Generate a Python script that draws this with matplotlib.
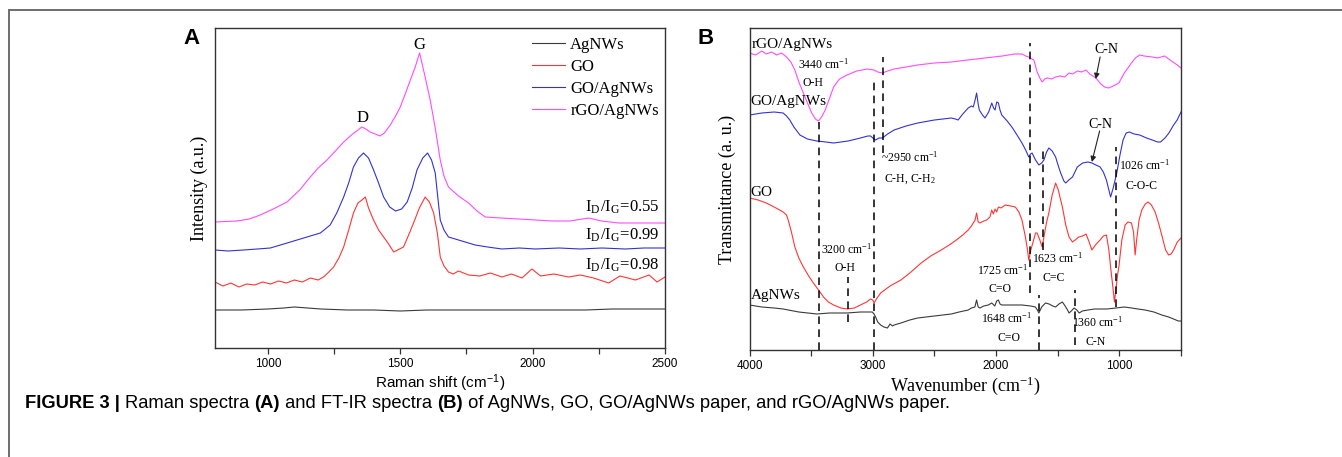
import matplotlib
matplotlib.use('Agg')
import matplotlib.pyplot as plt
from matplotlib.lines import Line2D

plt.rcParams['font.family'] = ['Liberation Sans', 'DejaVu Sans']
plt.rcParams['mathtext.fontset'] = 'stix'
SERIF = ['Liberation Serif', 'DejaVu Serif']
SANS = ['Liberation Sans', 'DejaVu Sans']

# ---------------- data: Raman (panel A), intensity in arbitrary units ----------------
raman_labels = ['AgNWs', 'GO', 'GO/AgNWs', 'rGO/AgNWs']
raman_ag = [(800, 38), (900, 38), (1000, 39), (1060, 40), (1100, 41), (1150, 40), (1200, 39), (1300, 38),
            (1400, 38), (1500, 37), (1600, 38), (1700, 38), (1800, 38), (1900, 38), (2000, 38),
            (2100, 38), (2200, 38), (2300, 39), (2400, 39), (2500, 39)]
raman_go = [(800, 66), (830, 62), (860, 65), (890, 61), (920, 64), (950, 63), (980, 66), (1010, 64),
            (1040, 67), (1070, 65), (1100, 68), (1130, 66), (1160, 70), (1190, 68), (1210, 71),
            (1230, 76), (1248, 81), (1268, 90), (1286, 101), (1305, 118), (1323, 135), (1340, 145),
            (1355, 148), (1368, 151), (1380, 140), (1399, 128), (1418, 118), (1437, 111), (1456, 104),
            (1475, 96), (1490, 98), (1512, 101), (1530, 112), (1550, 125), (1572, 140), (1594, 151),
            (1610, 146), (1626, 135), (1640, 115), (1651, 91), (1665, 82), (1682, 76), (1700, 74),
            (1720, 77), (1758, 73), (1800, 72), (1840, 75), (1884, 71), (1920, 74), (1960, 70),
            (1997, 79), (2030, 72), (2080, 74), (2136, 71), (2180, 73), (2230, 70), (2287, 65),
            (2330, 72), (2388, 68), (2440, 73), (2470, 66), (2500, 71)]
raman_goag = [(800, 98), (850, 97), (908, 98), (960, 99), (1009, 100), (1060, 104), (1110, 108),
              (1160, 112), (1198, 115), (1235, 123), (1260, 135), (1286, 151), (1305, 165), (1323, 181),
              (1342, 190), (1361, 195), (1380, 190), (1399, 178), (1418, 165), (1437, 151), (1460, 141),
              (1482, 137), (1505, 139), (1526, 146), (1545, 160), (1563, 178), (1585, 190), (1603, 195),
              (1618, 188), (1632, 175), (1642, 150), (1651, 128), (1665, 118), (1682, 111), (1720, 108),
              (1783, 103), (1830, 101), (1884, 99), (1950, 100), (2010, 99), (2100, 100), (2180, 99),
              (2262, 100), (2350, 99), (2420, 100), (2500, 100)]
raman_rgo = [(800, 126), (883, 127), (930, 129), (971, 133), (1020, 139), (1072, 146), (1120, 158),
             (1160, 171), (1190, 180), (1223, 188), (1255, 197), (1286, 206), (1320, 214), (1355, 221),
             (1370, 219), (1386, 216), (1405, 214), (1424, 212), (1440, 215), (1462, 223), (1480, 231),
             (1500, 241), (1520, 255), (1538, 268), (1555, 280), (1573, 295), (1593, 272), (1613, 248),
             (1632, 220), (1651, 188), (1665, 172), (1682, 161), (1720, 152), (1758, 145), (1790, 137),
             (1821, 131), (1880, 130), (1947, 129), (2010, 128), (2073, 127), (2140, 127), (2212, 130),
             (2260, 127), (2325, 125), (2400, 125), (2500, 125)]
raman_peaks = [('D', 1359, 230), ('G', 1573, 303)]
raman_ratios = [('0.55', 141), ('0.99', 113), ('0.98', 83)]

# ---------------- data: FT-IR (panel B), transmittance in arbitrary units ----------------
ftir_rgo = [(4000, 297), (3950, 295), (3900, 299), (3864, 296), (3820, 298), (3780, 295), (3740, 297),
            (3700, 293), (3665, 288), (3632, 280), (3600, 268), (3563, 257), (3530, 247), (3495, 237),
            (3465, 231), (3441, 229), (3415, 233), (3386, 240), (3350, 252), (3318, 263), (3270, 271),
            (3209, 275), (3130, 279), (3045, 281), (2990, 280), (2960, 278), (2922, 277), (2880, 279),
            (2827, 281), (2730, 283), (2636, 285), (2500, 287), (2363, 288), (2230, 290), (2090, 292),
            (1950, 294), (1850, 296), (1790, 296), (1760, 294), (1735, 293), (1710, 291), (1694, 290),
            (1680, 284), (1667, 278), (1645, 272), (1626, 268), (1605, 271), (1585, 272), (1550, 271),
            (1517, 273), (1480, 274), (1443, 273), (1408, 277), (1380, 276), (1340, 279), (1308, 278),
            (1271, 280), (1240, 276), (1190, 272), (1150, 266), (1120, 263), (1088, 262), (1050, 264),
            (1004, 267), (960, 277), (902, 287), (870, 292), (835, 295), (800, 294), (733, 293),
            (690, 292), (632, 294), (600, 291), (565, 288), (530, 285), (500, 282)]
ftir_goag = [(4000, 235), (3900, 237), (3800, 238), (3727, 237), (3700, 234), (3673, 230), (3640, 223),
             (3591, 215), (3530, 211), (3454, 209), (3380, 208), (3318, 207), (3200, 209), (3100, 212),
             (3040, 214), (3018, 214), (2990, 211), (2977, 210), (2950, 212), (2922, 212), (2880, 216),
             (2827, 220), (2730, 224), (2636, 227), (2500, 230), (2363, 232), (2330, 231), (2308, 230),
             (2270, 236), (2226, 242), (2200, 244), (2185, 243), (2170, 250), (2158, 257), (2145, 246),
             (2136, 240), (2110, 235), (2090, 232), (2060, 238), (2035, 247), (2020, 242), (2008, 240),
             (1995, 248), (1981, 247), (1968, 240), (1954, 235), (1910, 229), (1872, 223), (1830, 215),
             (1790, 207), (1760, 200), (1735, 193), (1720, 196), (1708, 197), (1680, 190), (1653, 185),
             (1630, 187), (1612, 190), (1590, 198), (1572, 202), (1545, 199), (1517, 193), (1495, 184),
             (1476, 177), (1450, 169), (1435, 167), (1410, 170), (1380, 173), (1341, 183), (1298, 187),
             (1255, 188), (1223, 187), (1190, 185), (1156, 183), (1130, 178), (1105, 170), (1085, 160),
             (1071, 153), (1050, 162), (1021, 177), (995, 195), (970, 210), (945, 217), (919, 218),
             (880, 216), (835, 215), (780, 212), (733, 210), (690, 208), (666, 208), (630, 212),
             (598, 217), (560, 225), (531, 230), (500, 238)]
ftir_go = [(4000, 152), (3930, 150), (3864, 147), (3800, 143), (3727, 138), (3700, 135), (3686, 130),
           (3660, 118), (3632, 103), (3600, 92), (3563, 83), (3520, 74), (3482, 67), (3440, 60),
           (3400, 53), (3360, 48), (3318, 45), (3260, 42), (3209, 41), (3150, 42), (3100, 45),
           (3050, 48), (3018, 51), (3000, 50), (2990, 47), (2965, 52), (2936, 57), (2860, 64),
           (2772, 70), (2690, 78), (2608, 87), (2530, 94), (2445, 100), (2380, 105), (2322, 110),
           (2270, 115), (2226, 120), (2200, 124), (2185, 127), (2170, 130), (2158, 137), (2145, 128),
           (2131, 127), (2100, 129), (2076, 130), (2050, 133), (2035, 140), (2022, 136), (2008, 141),
           (1995, 138), (1981, 143), (1960, 142), (1926, 145), (1880, 144), (1844, 143), (1815, 138),
           (1790, 130), (1762, 113), (1745, 100), (1735, 90), (1718, 100), (1700, 108), (1680, 117),
           (1667, 117), (1645, 110), (1626, 103), (1605, 118), (1590, 128), (1572, 137), (1545, 155),
           (1517, 167), (1495, 160), (1480, 152), (1462, 143), (1435, 125), (1408, 113), (1380, 108),
           (1358, 110), (1330, 113), (1298, 114), (1270, 116), (1245, 108), (1223, 100), (1200, 104),
           (1180, 107), (1156, 110), (1130, 114), (1105, 115), (1085, 100), (1071, 83), (1050, 60),
           (1040, 48), (1030, 58), (1015, 75), (1004, 83), (980, 110), (953, 125), (930, 128),
           (902, 127), (885, 118), (872, 95), (860, 110), (840, 130), (818, 140), (790, 146),
           (767, 148), (740, 145), (710, 138), (680, 126), (650, 112), (625, 100), (600, 95),
           (580, 96), (560, 100), (530, 108), (500, 112)]
ftir_ag = [(4000, 45), (3900, 43), (3800, 42), (3727, 41), (3600, 38), (3454, 36), (3350, 37),
           (3209, 37), (3100, 38), (3004, 38), (2990, 36), (2977, 33), (2960, 28), (2936, 25),
           (2910, 23), (2881, 22), (2860, 26), (2840, 24), (2827, 25), (2772, 27), (2700, 30),
           (2636, 32), (2500, 34), (2363, 36), (2300, 38), (2226, 40), (2200, 42), (2172, 43),
           (2158, 50), (2145, 43), (2131, 42), (2100, 44), (2063, 45), (2035, 47), (2010, 44),
           (1995, 49), (1981, 50), (1968, 46), (1954, 45), (1900, 45), (1850, 45), (1790, 45),
           (1720, 44), (1681, 43), (1665, 40), (1653, 37), (1630, 43), (1599, 47), (1570, 46),
           (1540, 44), (1517, 43), (1490, 46), (1462, 48), (1440, 44), (1420, 40), (1408, 37),
           (1390, 39), (1367, 42), (1345, 40), (1326, 37), (1300, 39), (1255, 40), (1200, 41),
           (1100, 41), (1027, 42), (960, 43), (900, 42), (850, 41), (791, 40), (720, 38),
           (656, 35), (600, 33), (560, 31), (522, 29), (500, 29)]
# assigned band positions (cm-1) marked with dashed lines
band_marks = [3440, 2990, 2920, 1725, 1623, 1648, 1360, 1026, 3200]
band_spans = [(0, 228), (0, 270), (197, 293), (57, 307), (100, 200), (0, 55), (5, 60), (43, 203), (28, 73)]

colors = {'AgNWs': '#3a3a3a', 'GO': '#ff3535', 'GO/AgNWs': '#3232d2', 'rGO/AgNWs': '#ff4cff'}

W, H = 1342, 457
fig = plt.figure(figsize=(W / 100, H / 100), dpi=100)

# frame lines of the figure panel
fig.add_artist(Line2D([9 / W, 1], [1 - 10 / H, 1 - 10 / H], color='#6e6e6e', lw=1.4,
                      transform=fig.transFigure))
fig.add_artist(Line2D([9 / W, 9 / W], [0, 1 - 10 / H], color='#6e6e6e', lw=1.4,
                      transform=fig.transFigure))

axA = fig.add_axes([215 / W, 1 - 348 / H, 450 / W, 320 / H])
axB = fig.add_axes([749.5 / W, 1 - 350 / H, 431.5 / W, 322 / H])

def xy(pts):
    return [p[0] for p in pts], [p[1] for p in pts]

LW = 0.8
# ---------------- panel A ----------------
for name, pts in zip(raman_labels, [raman_ag, raman_go, raman_goag, raman_rgo]):
    x, y = xy(pts)
    axA.plot(x, y, color=colors[name], lw=LW, label=name)
axA.set_xlim(800, 2500)
axA.set_ylim(0, 320)
axA.set_yticks([])
axA.set_xticks([1000, 1500, 2000, 2500])
axA.set_xticks([1250, 1750, 2250], minor=True)
axA.set_xlabel('Raman shift (cm$^{\\mathregular{-1}}$)', fontsize=11, family=SANS)
axA.xaxis.label.set_va('center')
axA.xaxis.set_label_coords(0.5, -(383 - 348) / 320)
axA.set_ylabel('Intensity (a.u.)', fontsize=13, family=SERIF)
axA.yaxis.set_label_coords(-7 / 450, 0.5)
for lbl, xv, yv in raman_peaks:
    axA.text(xv, yv, lbl, family=SERIF, fontsize=12, ha='center', va='center')
for val, yv in raman_ratios:
    axA.text(2478, yv, 'I$_\\mathregular{D}$/I$_\\mathregular{G}$=' + val, family=SERIF,
             fontsize=12, ha='right', va='center')
leg = axA.legend(loc='upper left', bbox_to_anchor=((532 - 215) / 450, 1 - (37 - 28) / 320),
                 frameon=False, prop={'family': SERIF, 'size': 12}, handlelength=2.0,
                 handletextpad=0.3, labelspacing=0.36, borderpad=0, borderaxespad=0)

# ---------------- panel B ----------------
for name, pts in zip(raman_labels, [ftir_ag, ftir_go, ftir_goag, ftir_rgo]):
    x, y = xy(pts)
    axB.plot(x, y, color=colors[name], lw=LW)
for wv, (y0, y1) in zip(band_marks, band_spans):
    axB.plot([wv, wv], [y0, y1], color='k', lw=1.1, dashes=(5, 3.5))
axB.set_xlim(4000, 500)
axB.set_ylim(0, 322)
axB.set_yticks([])
axB.set_xticks([4000, 3000, 2000, 1000])
axB.set_xticks([3500, 2500, 1500, 500], minor=True)
axB.set_xlabel('Wavenumber (cm$^{\\mathregular{-1}}$)', fontsize=13, family=SERIF)
axB.xaxis.label.set_va('center')
axB.xaxis.set_label_coords(0.5, -(386 - 350) / 322)
axB.set_ylabel('Transmittance (a. u.)', fontsize=13, family=SERIF)
axB.yaxis.set_label_coords(-13 / 431.5, 0.5)

cm = ' cm$^{\\mathregular{-1}}$'
series_labels = [('rGO/AgNWs', 3985, 306), ('GO/AgNWs', 3990, 248), ('GO', 3990, 158), ('AgNWs', 3990, 54)]
for txt, xv, yv in series_labels:
    axB.text(xv, yv, txt, family=SERIF, fontsize=11, ha='left', va='center')
band_texts = [('3440' + cm, 3400, 286, 'center'), ('O-H', 3482, 267, 'center'),
              ('~2950' + cm, 2936, 193, 'left'), ('C-H, C-H$_\\mathregular{2}$', 2909, 171, 'left'),
              ('3200' + cm, 3214, 101, 'center'), ('O-H', 3222, 82, 'center'),
              ('1725' + cm, 1950, 80, 'center'), ('C=O', 1967, 61, 'center'),
              ('1623' + cm, 1708, 92, 'left'), ('C=C', 1531, 72, 'center'),
              ('1648' + cm, 1913, 32, 'center'), ('C=O', 1899, 12, 'center'),
              ('1360' + cm, 1173, 28, 'center'), ('C-N', 1189, 8, 'center'),
              ('1026' + cm, 1004, 185, 'left'), ('C-O-C', 818, 164, 'center')]
for txt, xv, yv, ha in band_texts:
    axB.text(xv, yv, txt, family=SERIF, fontsize=8.5, ha=ha, va='center')
arrow_notes = [('C-N', 1105, 301, (1156, 293), (1192, 271)), ('C-N', 1156, 226, (1160, 219), (1223, 188))]
for txt, xv, yv, start, end in arrow_notes:
    axB.text(xv, yv, txt, family=SERIF, fontsize=10, ha='center', va='center')
    axB.annotate('', xy=end, xytext=start,
                 arrowprops=dict(arrowstyle='-|>', color='#222222', lw=0.8, mutation_scale=8,
                                 shrinkA=0, shrinkB=0))

for ax in (axA, axB):
    for s in ax.spines.values():
        s.set_linewidth(1.0)
        s.set_color('#333333')
    ax.tick_params(axis='x', which='both', direction='out', length=4, width=0.9,
                   color='#333333', labelsize=8.5, pad=3, top=False)
    for lab in ax.get_xticklabels():
        lab.set_fontfamily(SANS)

# panel letters
fig.text(192 / W, 1 - 39 / H, 'A', fontsize=16, fontweight='bold', family=SANS, ha='center', va='center')
fig.text(706 / W, 1 - 39 / H, 'B', fontsize=16, fontweight='bold', family=SANS, ha='center', va='center')

# caption with mixed bold / regular segments
caption = [('FIGURE 3 | ', 'bold'), ('Raman spectra ', 'normal'), ('(A)', 'bold'),
           (' and FT-IR spectra ', 'normal'), ('(B)', 'bold'),
           (' of AgNWs, GO, GO/AgNWs paper, and rGO/AgNWs paper.', 'normal')]
renderer = fig.canvas.get_renderer()
xpos = 25 / W
for seg, wt in caption:
    t = fig.text(xpos, 1 - 403 / H, seg, fontsize=13.2, fontweight=wt, family=SANS, va='center', ha='left')
    bb = t.get_window_extent(renderer)
    xpos = bb.x1 / W

fig.savefig('out.png', dpi=100)
